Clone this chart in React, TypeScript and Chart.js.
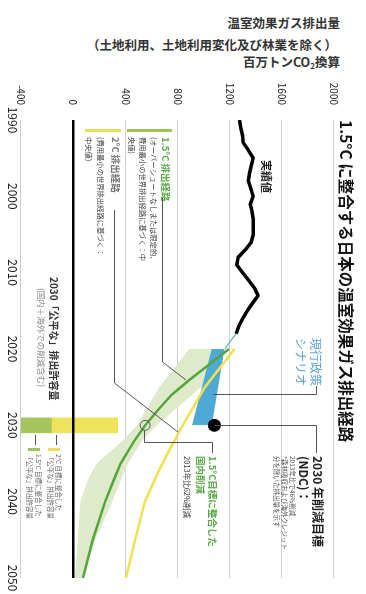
import React, { useEffect, useRef } from "react";
import { Chart, registerables } from "chart.js";
Chart.register(...registerables);

const FONT = '"Noto Sans CJK JP", "Noto Sans", sans-serif';

// ---- data ----
const yearTicks = [1990, 2000, 2010, 2020, 2030, 2040, 2050];
const valueTicks = [-400, 0, 400, 800, 1200, 1600, 2000];

const actualYears = [1990, 1991, 1992, 1993, 1994, 1995, 1996, 1997, 1998, 1999, 2000, 2001, 2002, 2003, 2004, 2005, 2006, 2007, 2008, 2009, 2010, 2011, 2012, 2013, 2014, 2015, 2016, 2017, 2018];
const actualValues = [1275, 1285, 1298, 1305, 1345, 1380, 1365, 1352, 1343, 1362, 1380, 1358, 1372, 1381, 1381, 1381, 1366, 1320, 1265, 1255, 1300, 1345, 1390, 1418, 1375, 1335, 1300, 1270, 1250];

const connectorYears = [2018, 2019, 2020];
const connectorValues = [1250, 1205, 1165];

const policyYears = [2020, 2030];
const policyUpper = [1161, 1063];
const policyLower = [1063, 911];

const path15Years = [2020, 2022, 2024, 2026, 2028, 2030, 2032, 2035, 2037, 2040, 2045, 2050];
const path15Values = [1195, 1045, 895, 755, 650, 552, 470, 364, 315, 245, 150, 76];

const band15Years = [2020, 2025, 2030, 2032, 2035, 2037, 2040, 2045, 2050];
const band15Upper = [1150, 980, 640, 530, 420, 370, 300, 170, 80];
const band15Lower = [890, 660, 490, 380, 180, 115, 55, 35, 15];

const path2Years = [2020, 2025, 2030, 2033, 2036, 2040, 2045, 2050];
const path2Values = [1237, 1010, 840, 745, 655, 550, 475, 405];

const targetYear = 2030;
const ndcValue = 1083;
const domestic15Value = 552;
const fair15Range = [-400, -167];
const fair2Range = [-167, 342];
const zeroYears = [1990, 2050];

const pts = (xs: number[], ys: number[]) => xs.map((x, i) => ({ x, y: ys[i] }));

function drawLine(ctx: CanvasRenderingContext2D, p: number[][], color = "#555", w = 1) {
  ctx.save();
  ctx.beginPath();
  ctx.moveTo(p[0][0], p[0][1]);
  for (let i = 1; i < p.length; i++) ctx.lineTo(p[i][0], p[i][1]);
  ctx.strokeStyle = color;
  ctx.lineWidth = w;
  ctx.stroke();
  ctx.restore();
}
function txt(ctx: CanvasRenderingContext2D, s: string, x: number, y: number, size: number, color: string, bold = false) {
  ctx.save();
  ctx.font = `${bold ? "bold " : ""}${size}px ${FONT}`;
  ctx.fillStyle = color;
  ctx.textAlign = "left";
  ctx.textBaseline = "middle";
  ctx.fillText(s, x, y);
  ctx.restore();
}

const GREEN_TXT = "#5aaa46";
const annotPlugin = {
  id: "annot",
  afterDraw(chart: any) {
    const ctx: CanvasRenderingContext2D = chart.ctx;
    const xs = chart.scales.x;
    const ys = chart.scales.y;
    // title
    txt(ctx, "1.5°C に整合する日本の温室効果ガス排出経路", 48, 20, 15.5, "#111", true);
    txt(ctx, "実績値", 88, 100, 11, "#222", true);

    // 1.5 path legend
    ctx.fillStyle = "#9cc45a";
    ctx.fillRect(57, 194, 3, 45);
    txt(ctx, "1.5°C 排出経路", 65, 200, 9.5, GREEN_TXT, true);
    txt(ctx, "(オーバーシュートなしまたは限定的、", 65, 212, 7.3, "#444");
    txt(ctx, "費用最小の世界排出経路に基づく：中", 65, 223, 7.3, "#444");
    txt(ctx, "央値)", 65, 234, 7.3, "#444");
    drawLine(ctx, [[126, 203.5], [290, 203.5], [308, 180]]);

    // 2 path legend
    ctx.fillStyle = "#ece05a";
    ctx.fillRect(57, 245, 3, 36);
    txt(ctx, "2°C 排出経路", 65, 250, 9.5, "#777", true);
    txt(ctx, "(費用最小の世界排出経路に基づく：", 65, 265, 7.3, "#444");
    txt(ctx, "中央値)", 65, 277, 7.3, "#444");
    drawLine(ctx, [[138, 251.5], [311, 251.5], [360, 188]]);

    // policy scenario
    txt(ctx, "現行政策", 266, 50, 12, "#5aa3cf");
    txt(ctx, "シナリオ", 266, 65, 12, "#5aa3cf");
    drawLine(ctx, [[314, 49.5], [322.5, 49.5], [322.5, 153]]);

    // NDC
    const dx = Math.round(xs.getPixelForValue(targetYear)) + 0.5;
    const dy = ys.getPixelForValue(ndcValue);
    drawLine(ctx, [[dx, dy], [dx, 49.5], [381, 49.5]]);
    txt(ctx, "2030 年削減目標", 384, 48, 12, "#222", true);
    txt(ctx, "(NDC)：", 384, 62, 12, "#222", true);
    txt(ctx, "2013年比で46%削減", 384, 74, 6.5, "#555");
    txt(ctx, "*森林吸収および海外クレジット", 384, 82, 6.5, "#555");
    txt(ctx, "分を除いた排出量を示す", 384, 90, 6.5, "#555");

    // domestic 1.5
    const cy = Math.round(ys.getPixelForValue(domestic15Value)) + 0.5;
    drawLine(ctx, [[dx + 5, cy], [370.5, cy], [370.5, 153.5], [381, 153.5]]);
    txt(ctx, "1.5°C目標に整合した", 384, 153, 9.5, GREEN_TXT, true);
    txt(ctx, "国内削減", 384, 165, 9.5, GREEN_TXT, true);
    txt(ctx, "2013年比62%削減", 384, 179, 7.5, "#333");

    // fair share
    txt(ctx, "2030「公平な」排出許容量", 205, 312, 10, "#333", true);
    txt(ctx, "(国内＋海外での削減含む)", 216, 325, 8.5, "#888");

    drawLine(ctx, [[363, 309.5], [373, 309.5]]);
    drawLine(ctx, [[363, 330.5], [373, 330.5]]);
    ctx.fillStyle = "#ece05a";
    ctx.fillRect(376, 306, 3, 12);
    ctx.fillStyle = "#9cc45a";
    ctx.fillRect(376, 326, 3, 12);
    txt(ctx, "2°C 目標に整合した", 382, 308, 6.5, "#666");
    txt(ctx, "「公平な」排出許容量", 382, 316, 6.5, "#666");
    txt(ctx, "1.5°C 目標に整合した", 382, 328, 6.5, "#666");
    txt(ctx, "「公平な」排出許容量", 382, 337, 6.5, "#666");
  },
};

export default function App() {
  const ref = useRef<HTMLCanvasElement>(null);
  useEffect(() => {
    const line = (extra: any) => ({ type: "line", pointRadius: 0, borderWidth: 0, tension: 0, ...extra });
    const chart = new Chart(ref.current as HTMLCanvasElement, {
      type: "line",
      data: {
        datasets: [
          line({ label: "band15U", data: pts(band15Years, band15Upper), fill: "+1", backgroundColor: "#dfeacb", borderColor: "rgba(0,0,0,0)", order: 15 }),
          line({ label: "band15L", data: pts(band15Years, band15Lower), fill: false, borderColor: "rgba(0,0,0,0)", order: 15 }),
          line({ label: "policyU", data: pts(policyYears, policyUpper), fill: "+1", backgroundColor: "#4eaad4", borderColor: "rgba(0,0,0,0)", order: 14 }),
          line({ label: "policyL", data: pts(policyYears, policyLower), fill: false, borderColor: "rgba(0,0,0,0)", order: 14 }),
          line({ label: "2C", data: pts(path2Years, path2Values), borderColor: "#efe04c", borderWidth: 2.5, fill: false, order: 12 }),
          line({ label: "1.5C", data: pts(path15Years, path15Values), borderColor: "#55a53f", borderWidth: 2.5, fill: false, order: 11 }),
          line({ label: "conn", data: pts(connectorYears, connectorValues), borderColor: "#5ab0d6", borderWidth: 1.2, fill: false, order: 10 }),
          line({ label: "actual", data: pts(actualYears, actualValues), borderColor: "#000", borderWidth: 3.5, fill: false, order: 9, borderJoinStyle: "round" }),
          { type: "bar", label: "fair15", data: [{ x: targetYear, y: fair15Range }], backgroundColor: "#a5c65e", barThickness: 15, grouped: false, order: 20 } as any,
          { type: "bar", label: "fair2", data: [{ x: targetYear, y: fair2Range }], backgroundColor: "#f0e35c", barThickness: 15, grouped: false, order: 20 } as any,
          line({ label: "zero", data: pts(zeroYears, [0, 0]), borderColor: "#000", borderWidth: 2.5, fill: false, order: 8 }),
          line({ label: "ndc", data: [{ x: targetYear, y: ndcValue }], showLine: false, pointRadius: 6.5, pointBackgroundColor: "#000", pointBorderWidth: 0, order: 5 }),
          line({ label: "dom", data: [{ x: targetYear, y: domestic15Value }], showLine: false, pointRadius: 5, pointBackgroundColor: "rgba(0,0,0,0)", pointBorderColor: "#555", pointBorderWidth: 1, order: 5 }),
        ] as any,
      },
      options: {
        animation: false,
        responsive: false,
        devicePixelRatio: 1,
        layout: { padding: { left: 0, right: 16, top: 32, bottom: 0 } },
        plugins: { legend: { display: false }, tooltip: { enabled: false }, title: { display: false } },
        scales: {
          x: {
            type: "linear",
            min: 1990,
            max: 2050,
            offset: false,
            grid: { display: false, drawTicks: false },
            border: { display: false },
            afterBuildTicks: (s: any) => { s.ticks = yearTicks.map((v) => ({ value: v })); },
            afterFit: (s: any) => { s.height = 18; },
            ticks: { padding: 1, color: "#222", font: { family: FONT, size: 12 }, maxRotation: 0, autoSkip: false, callback: (v: any) => String(v) },
          },
          y: {
            type: "linear",
            min: -400,
            max: 2000,
            grid: { color: (c: any) => (c.tick && c.tick.value === 0 ? "rgba(0,0,0,0)" : "#cfcfcf"), lineWidth: 1, drawTicks: false },
            border: { display: false },
            afterBuildTicks: (s: any) => { s.ticks = valueTicks.map((v) => ({ value: v })); },
            afterFit: (s: any) => { s.width = 48; },
            ticks: { padding: 15, color: "#222", font: { family: FONT, size: 10 }, autoSkip: false, callback: (v: any) => String(v) },
          },
        },
      } as any,
      plugins: [annotPlugin],
    });
    return () => chart.destroy();
  }, []);

  const head = (top: number): React.CSSProperties => ({
    position: "absolute",
    right: 26,
    top,
    fontFamily: FONT,
    fontWeight: "bold",
    fontSize: 12.5,
    lineHeight: "14px",
    color: "#333",
    whiteSpace: "nowrap",
  });

  return (
    <div style={{ position: "fixed", left: 0, top: 0, width: 366, height: 594, background: "#fff", overflow: "hidden" }}>
      <div style={head(16)}>温室効果ガス排出量</div>
      <div style={{ ...head(38), right: 29 }}>（土地利用、土地利用変化及び林業を除く）</div>
      <div style={head(55)}>
        百万トンCO<span style={{ fontSize: 8, verticalAlign: "-2px" }}>2</span>換算
      </div>
      <div style={{ position: "absolute", left: 0, top: 72, width: 366, height: 522 }}>
        <div style={{ position: "absolute", left: 0, top: 0, width: 522, height: 366, transform: "translateX(366px) rotate(90deg)", transformOrigin: "0 0" }}>
          <canvas ref={ref} width={522} height={366} style={{ display: "block", width: 522, height: 366 }} />
        </div>
      </div>
    </div>
  );
}
